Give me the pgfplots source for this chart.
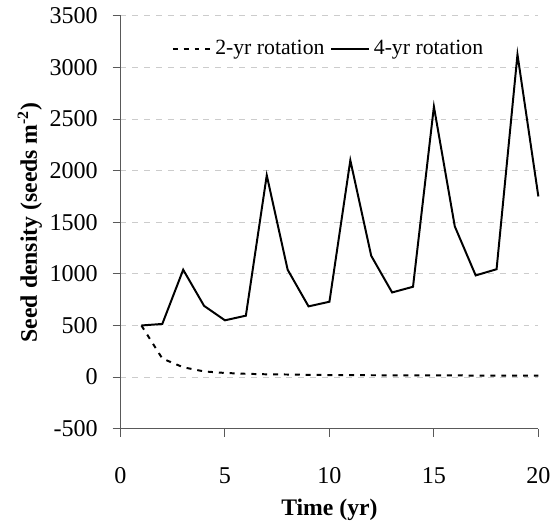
\documentclass[border=0pt]{standalone}
\usepackage{fontspec}
\setmainfont{Liberation Serif}
\usepackage{pgfplots}
\pgfplotsset{compat=1.18}
\begin{document}
\begin{tikzpicture}
\begin{axis}[
  name=ax,
  scale only axis,
  width=211.5pt, height=209pt,
  xmin=0, xmax=20, ymin=-500, ymax=3500,
  xtick={0,5,10,15,20},
  ytick={-500,0,500,1000,1500,2000,2500,3000,3500},
  axis lines=left,
  axis line style={gray!70!black, line width=0.5pt, -},
  tick style={gray!70!black, line width=0.5pt},
  xtick align=outside, ytick align=outside,
  major tick length=4pt,
  ymajorgrids,
  grid style={dashed, gray!40, line width=0.4pt},
  /pgf/number format/assume math mode=true,
  /pgf/number format/1000 sep={},
  tick label style={font=\fontsize{12.2}{14}\selectfont},
  xticklabel style={yshift=-12pt},
  yticklabel style={xshift=-4pt},
  xlabel={\textbf{Time (yr)}},
  ylabel={\textbf{Seed density (seeds m\textsuperscript{-2})}},
  label style={font=\fontsize{12}{14}\selectfont},
  xlabel style={yshift=-1pt},
  ylabel style={yshift=-3pt},
  legend style={draw=none, fill=none, at={(0.5,0.92)}, anchor=center,
    font=\fontsize{11}{13}\selectfont, /tikz/every even column/.append style={column sep=1pt}},
  legend columns=2,
  legend image code/.code={\draw[#1] (0pt,0pt) -- (19pt,0pt);},
  clip=false,
]
\addplot[black, line width=1pt, dash pattern=on 2.5pt off 3pt] coordinates {
(1,500) (2,180) (3,95) (4,55) (5,40) (6,32) (7,27) (8,25) (9,22) (10,20)
(11,19) (12,18) (13,17) (14,17) (15,16) (16,16) (17,15) (18,15) (19,15) (20,15)};
\addlegendentry{2-yr rotation}
\addplot[black, line width=1pt] coordinates {
(1,500) (2,515) (3,1040) (4,690) (5,550) (6,595) (7,1955) (8,1040) (9,685) (10,730)
(11,2100) (12,1175) (13,820) (14,875) (15,2620) (16,1460) (17,985) (18,1045) (19,3125) (20,1750)};
\addlegendentry{4-yr rotation}
\end{axis}
\path (ax.south west) ++(-61pt,-44pt) rectangle ++(278.5pt,261pt);
\end{tikzpicture}
\end{document}
